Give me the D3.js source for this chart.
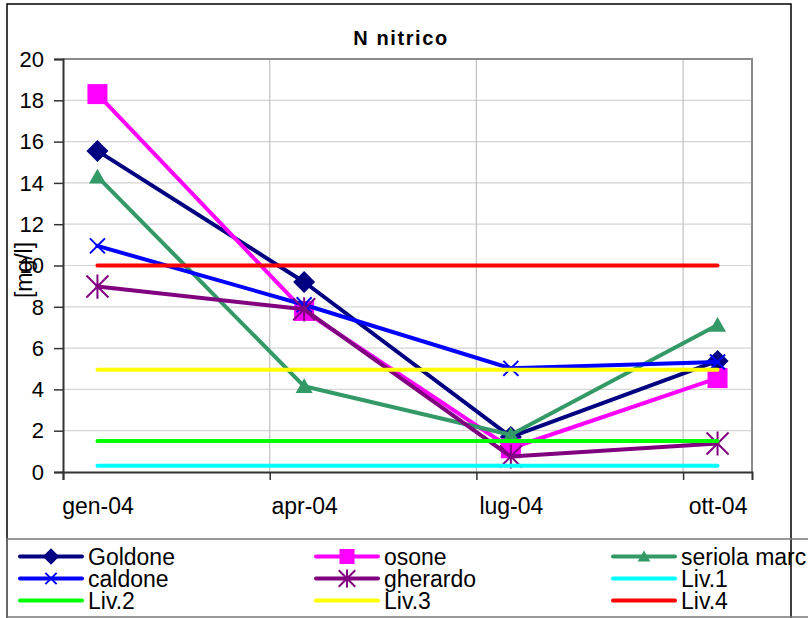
<!DOCTYPE html>
<html><head><meta charset="utf-8">
<script src="https://cdn.jsdelivr.net/npm/d3@7"></script>
<style>
html,body{margin:0;padding:0;background:#fff;}
svg{display:block;font-family:"Liberation Sans",Arial,sans-serif;}
</style></head>
<body><svg id="c" width="808" height="618"></svg>
<script>
// ---- data ----
const title = "N nitrico";
const yLabel = "[mg/l]";
const categories = ["gen-04", "apr-04", "lug-04", "ott-04"];
const monthIndex = [0, 3, 6, 9];          // months since Jan 2004
const yTicks = [0, 2, 4, 6, 8, 10, 12, 14, 16, 18, 20];

const goldone  = [15.55, 9.2, 1.7, 5.38];
const osone    = [18.3, 7.8, 1.15, 4.55];
const seriola  = [14.3, 4.15, 1.8, 7.12];
const caldone  = [10.95, 8.1, 5.02, 5.33];
const gherardo = [8.98, 7.88, 0.75, 1.38];
const liv1 = [0.3, 0.3, 0.3, 0.3];
const liv2 = [1.5, 1.5, 1.5, 1.5];
const liv3 = [4.95, 4.95, 4.95, 4.95];
const liv4 = [10, 10, 10, 10];

const seriesNames  = ["Goldone", "osone", "seriola marc", "caldone", "gherardo", "Liv.1", "Liv.2", "Liv.3", "Liv.4"];
const seriesValues = [goldone, osone, seriola, caldone, gherardo, liv1, liv2, liv3, liv4];
const seriesColors = ["#000080", "#FF00FF", "#339966", "#0000FF", "#800080", "#00FFFF", "#00FF00", "#FFFF00", "#FF0000"];
const seriesMarkers = ["diamond", "square", "triangle", "x", "star", null, null, null, null];

// ---- layout ----
const svg = d3.select("#c");
const P = {left: 63, right: 752, top: 59, bottom: 472};
const x = d3.scaleLinear().domain([0, 10]).range([P.left, P.right]);
const y = d3.scaleLinear().domain([0, 20]).range([P.bottom, P.top]);

svg.append("rect").attr("x", 0).attr("y", 0).attr("width", 808).attr("height", 618).attr("fill", "#fff");
// outer frame
svg.append("rect").attr("x", 7).attr("y", 4).attr("width", 784).attr("height", 640)
  .attr("fill", "none").attr("stroke", "#000").attr("stroke-width", 1.5);

// gridlines
svg.append("g").selectAll("line").data(yTicks.filter(d => d > 0 && d < 20)).join("line")
  .attr("x1", P.left).attr("x2", P.right).attr("y1", d => y(d)).attr("y2", d => y(d))
  .attr("stroke", "#d4d4d4").attr("stroke-width", 1.2);
svg.append("g").selectAll("line").data(monthIndex.filter(d => d > 0)).join("line")
  .attr("y1", P.top).attr("y2", P.bottom).attr("x1", d => x(d)).attr("x2", d => x(d))
  .attr("stroke", "#c0c0c0").attr("stroke-width", 1.2);

// plot border (top / right)
svg.append("path").attr("d", `M${P.left},${P.top}H${P.right}V${P.bottom}`)
  .attr("fill", "none").attr("stroke", "#8a8a8a").attr("stroke-width", 2);

// axes
const yAxis = svg.append("g").attr("transform", `translate(${P.left},0)`)
  .call(d3.axisLeft(y).tickValues(yTicks).tickSize(9).tickPadding(10).tickFormat(d3.format("d")));
yAxis.select(".domain").attr("stroke", "#333").attr("stroke-width", 2);
yAxis.selectAll(".tick line").attr("stroke", "#333").attr("stroke-width", 1.5);
yAxis.selectAll(".tick text").attr("font-size", 22).attr("fill", "#000")
  .attr("font-family", "Liberation Sans, Arial, sans-serif").attr("dy", "0.33em");

const xAxis = svg.append("g").attr("transform", `translate(0,${P.bottom})`)
  .call(d3.axisBottom(x).tickValues(monthIndex).tickSize(8).tickFormat(""));
xAxis.select(".domain").attr("stroke", "#333").attr("stroke-width", 2);
xAxis.selectAll(".tick line").attr("stroke", "#333").attr("stroke-width", 1.5);

const xLab = svg.append("g").attr("transform", `translate(0,${P.bottom})`)
  .call(d3.axisBottom(x).tickValues(monthIndex.map(m => m + 0.5)).tickSize(0).tickPadding(26)
    .tickFormat((d, i) => categories[i]));
xLab.select(".domain").remove();
xLab.selectAll(".tick text").attr("font-size", 23).attr("fill", "#000")
  .attr("font-family", "Liberation Sans, Arial, sans-serif");

// title
svg.append("text").attr("x", 401).attr("y", 45).attr("text-anchor", "middle")
  .attr("font-size", 20).attr("font-weight", "bold").attr("letter-spacing", 1.6).text(title);
// y label
svg.append("text").attr("transform", "translate(32,270) rotate(-90)").attr("text-anchor", "middle")
  .attr("font-size", 23).text(yLabel);

// markers
function drawMarker(g, type, color, cx, cy, scale) {
  const s = scale || 1;
  if (type === "diamond") {
    const r = 11 * s;
    g.append("path").attr("d", `M${cx},${cy - r}L${cx + r},${cy}L${cx},${cy + r}L${cx - r},${cy}Z`).attr("fill", color);
  } else if (type === "square") {
    const h = 10 * s;
    g.append("rect").attr("x", cx - h).attr("y", cy - h).attr("width", 2 * h).attr("height", 2 * h).attr("fill", color);
  } else if (type === "triangle") {
    const w = 8.5 * s, h = 8 * s;
    g.append("path").attr("d", `M${cx},${cy - h}L${cx + w},${cy + h * 0.85}L${cx - w},${cy + h * 0.85}Z`).attr("fill", color);
  } else if (type === "x") {
    const r = 7.5 * s;
    g.append("path").attr("d", `M${cx - r},${cy - r}L${cx + r},${cy + r}M${cx - r},${cy + r}L${cx + r},${cy - r}`)
      .attr("stroke", color).attr("stroke-width", 2).attr("fill", "none");
  } else if (type === "star") {
    const r = 11 * s;
    g.append("path").attr("d", `M${cx - r},${cy - r}L${cx + r},${cy + r}M${cx - r},${cy + r}L${cx + r},${cy - r}M${cx},${cy - r * 1.1}L${cx},${cy + r * 1.1}`)
      .attr("stroke", color).attr("stroke-width", 2).attr("fill", "none");
  }
}

const line = d3.line().x((d, i) => x(monthIndex[i] + 0.5)).y(d => y(d));
const plot = svg.append("g");
seriesValues.forEach((vals, k) => {
  const g = plot.append("g");
  g.append("path").attr("d", line(vals)).attr("fill", "none")
    .attr("stroke", seriesColors[k]).attr("stroke-width", 4).attr("stroke-linejoin", "round").attr("stroke-linecap", "round");
  if (seriesMarkers[k]) vals.forEach((v, i) => drawMarker(g, seriesMarkers[k], seriesColors[k], x(monthIndex[i] + 0.5), y(v)));
});

// legend
svg.append("rect").attr("x", 7).attr("y", 539).attr("width", 830).attr("height", 78)
  .attr("fill", "none").attr("stroke", "#777").attr("stroke-width", 1.5);
const colX = [20, 316, 613];
const rowY = [556.5, 578.5, 600.5];
seriesNames.forEach((name, k) => {
  const cx = colX[k % 3], cy = rowY[Math.floor(k / 3)];
  const g = svg.append("g");
  g.append("line").attr("x1", cx).attr("x2", cx + 62).attr("y1", cy).attr("y2", cy)
    .attr("stroke", seriesColors[k]).attr("stroke-width", 4).attr("stroke-linecap", "round");
  if (seriesMarkers[k]) drawMarker(g, seriesMarkers[k], seriesColors[k], cx + 31, cy, 0.75);
  g.append("text").attr("x", cx + 68).attr("y", cy + 8.5).attr("font-size", 23).text(name);
});
</script></body></html>
